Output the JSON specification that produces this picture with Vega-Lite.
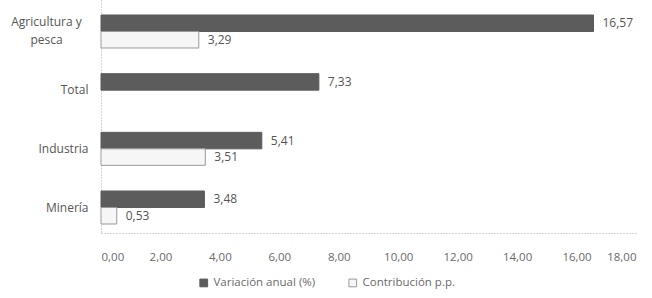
{
  "$schema": "https://vega.github.io/schema/vega-lite/v6.json",
  "autosize": {"type": "none"},
  "width": 535,
  "height": 233,
  "padding": {"left": 101, "top": 0, "right": 16, "bottom": 65},
  "background": "white",
  "config": {
    "locale": {"number": {"decimal": ",", "thousands": ".", "grouping": [3], "currency": ["", " €"]}},
    "font": "Open Sans",
    "view": {"stroke": null},
    "axis": {"labelFont": "Open Sans", "labelColor": "#6a6a6a", "labelFontSize": 11.5, "grid": false, "ticks": false, "title": null}
  },
  "data": {
    "values": [
      {"cat": "Agricultura y pesca", "serie": "Variación anual (%)", "value": 16.57},
      {"cat": "Agricultura y pesca", "serie": "Contribución p.p.", "value": 3.29},
      {"cat": "Total", "serie": "Variación anual (%)", "value": 7.33},
      {"cat": "Industria", "serie": "Variación anual (%)", "value": 5.41},
      {"cat": "Industria", "serie": "Contribución p.p.", "value": 3.51},
      {"cat": "Minería", "serie": "Variación anual (%)", "value": 3.48},
      {"cat": "Minería", "serie": "Contribución p.p.", "value": 0.53}
    ]
  },
  "encoding": {
    "y": {
      "field": "cat", "type": "nominal",
      "sort": ["Agricultura y pesca", "Total", "Industria", "Minería"],
      "scale": {"paddingInner": 0.4375, "paddingOuter": 0.2045, "align": 0.625},
      "axis": {
        "domainColor": "#aaaaaa", "domainDash": [1, 2],
        "labelPadding": {"condition": {"test": "datum.value == 'Agricultura y pesca'", "value": 55}, "value": 13},
        "labelAlign": {"condition": {"test": "datum.value == 'Agricultura y pesca'", "value": "center"}, "value": "right"},
        "labelLineHeight": 18, "labelColor": "#555555", "labelFontSize": 12,
        "labelOffset": {"condition": {"test": "datum.value == 'Agricultura y pesca'", "value": -9}, "value": 0},
        "labelExpr": "datum.value == 'Agricultura y pesca' ? ['Agricultura y', 'pesca'] : datum.value"
      }
    },
    "yOffset": {"field": "serie", "type": "nominal", "sort": ["Variación anual (%)", "Contribución p.p."]},
    "x": {
      "field": "value", "type": "quantitative",
      "scale": {"domain": [0, 18], "nice": false},
      "axis": {"values": [0, 2, 4, 6, 8, 10, 12, 14, 16, 18], "format": ".2f", "domainColor": "#aaaaaa", "domainDash": [1, 2], "labelPadding": 18}
    }
  },
  "layer": [
    {
      "mark": {"type": "bar", "strokeWidth": 1},
      "encoding": {
        "color": {
          "field": "serie", "type": "nominal",
          "sort": ["Variación anual (%)", "Contribución p.p."],
          "scale": {"domain": ["Variación anual (%)", "Contribución p.p."], "range": ["#5c5c5c", "#f6f6f6"]},
          "legend": {
            "title": null, "orient": "none", "direction": "horizontal",
            "legendX": 97, "legendY": 277, "symbolType": "square", "symbolSize": 60,
            "labelFont": "Open Sans", "labelFontSize": 11.5, "labelColor": "#6a6a6a",
            "columnPadding": 30, "symbolStrokeWidth": 1
          }
        },
        "stroke": {
          "field": "serie", "type": "nominal",
          "sort": ["Variación anual (%)", "Contribución p.p."],
          "scale": {"domain": ["Variación anual (%)", "Contribución p.p."], "range": ["#5c5c5c", "#9a9a9a"]},
          "legend": null
        }
      }
    },
    {
      "mark": {"type": "text", "align": "left", "baseline": "middle", "dx": 9, "fontSize": 12, "color": "#555555", "font": "Open Sans"},
      "encoding": {
        "text": {"field": "value", "type": "quantitative", "format": ".2f"}
      }
    }
  ]
}
